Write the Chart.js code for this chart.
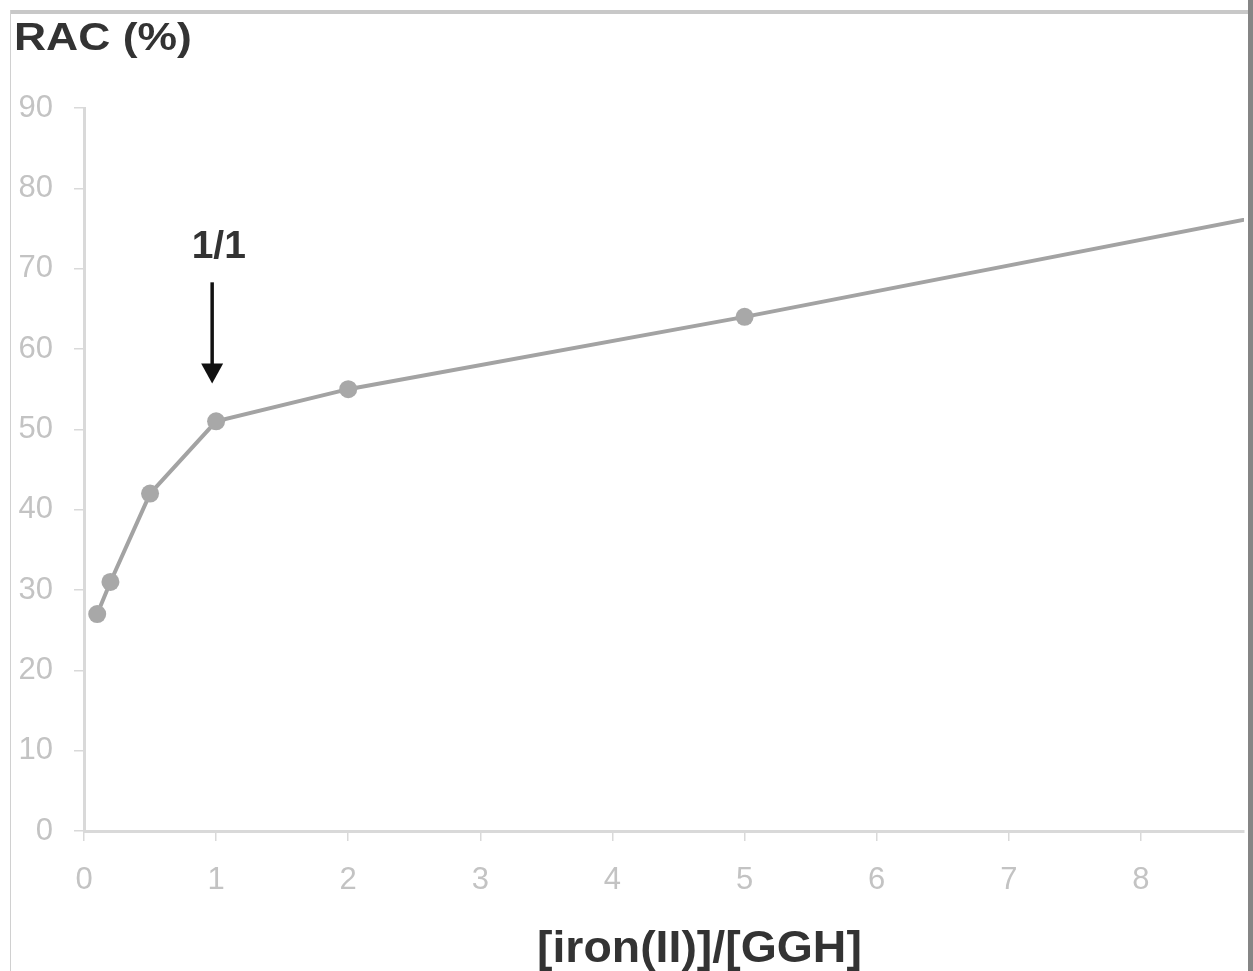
<!DOCTYPE html>
<html>
<head>
<meta charset="utf-8">
<script src="https://cdn.jsdelivr.net/npm/chart.js@4.4.1/dist/chart.umd.min.js"></script>
<style>
  html, body { margin: 0; padding: 0; background: #fff; }
  #wrap { position: relative; width: 1253px; height: 971px; overflow: hidden; }
  #wrap canvas { position: absolute; left: 0; top: 0; }
  .frame-top { position: absolute; left: 10px; top: 10px; width: 1238px; height: 4px; background: #c8c8c8; }
  .frame-left { position: absolute; left: 10px; top: 10px; width: 1px; height: 961px; background: #d0d0d0; }
  .frame-right { position: absolute; left: 1248px; top: 0; width: 5px; height: 971px; background: #858585; }
  .ytitle, .xtitle { position: absolute; font-family: "Liberation Sans", Arial, sans-serif; font-weight: bold;
    color: #333; line-height: 1; white-space: nowrap; transform-origin: left top; }
  .ytitle { left: 14px; top: 18px; font-size: 38px; transform: scaleX(1.17); }
  .xtitle { left: 537px; top: 925px; font-size: 44px; transform: scaleX(1.055); }
</style>
</head>
<body>
<div id="wrap">
  <canvas id="chart" width="1253" height="971"></canvas>
  <div class="frame-top"></div>
  <div class="frame-left"></div>
  <div class="frame-right"></div>
  <div class="ytitle">RAC (%)</div>
  <div class="xtitle">[iron(II)]/[GGH]</div>
</div>
<script>
// rapport fer/GGH et RAC mesuré
const ratios = [0.1, 0.2, 0.5, 1, 2, 5, 10];
const racValues = [27, 31, 42, 51, 55, 64, 80];
const xTicks = [0, 1, 2, 3, 4, 5, 6, 7, 8];
const yTicks = [0, 10, 20, 30, 40, 50, 60, 70, 80, 90];

// flèche "1/1"
const noteText = '1/1';
const noteX = 1.02, noteY = 71.3;
const arrowX = 0.97, arrowFrom = 68.3, arrowTo = 55.7;

const tickFont = { family: '"Liberation Sans", Arial, sans-serif', size: 31 };
const axisGray = '#d9d9d9';

const arrowPlugin = {
  id: 'arrowNote',
  afterDatasetsDraw(chart) {
    const { ctx, scales: { x, y } } = chart;
    const ax = x.getPixelForValue(arrowX);
    const y1 = y.getPixelForValue(arrowFrom);
    const y2 = y.getPixelForValue(arrowTo);
    ctx.save();
    ctx.strokeStyle = '#111';
    ctx.fillStyle = '#111';
    ctx.lineWidth = 3.5;
    ctx.beginPath();
    ctx.moveTo(ax, y1);
    ctx.lineTo(ax, y2 - 15);
    ctx.stroke();
    ctx.beginPath();
    ctx.moveTo(ax - 11, y2 - 20);
    ctx.lineTo(ax + 11, y2 - 20);
    ctx.lineTo(ax, y2);
    ctx.closePath();
    ctx.fill();
    ctx.font = 'bold 39px "Liberation Sans", Arial, sans-serif';
    ctx.fillStyle = '#333';
    ctx.textAlign = 'center';
    ctx.textBaseline = 'alphabetic';
    ctx.fillText(noteText, x.getPixelForValue(noteX), y.getPixelForValue(noteY));
    ctx.restore();
  }
};

new Chart(document.getElementById('chart').getContext('2d'), {
  type: 'line',
  data: {
    datasets: [{
      data: ratios.map((r, i) => ({ x: r, y: racValues[i] })),
      borderColor: '#a3a3a3',
      borderWidth: 4,
      pointRadius: 9,
      pointBackgroundColor: '#a8a8a8',
      pointBorderColor: '#a8a8a8',
      pointBorderWidth: 0,
      tension: 0,
    }]
  },
  options: {
    responsive: false,
    animation: false,
    layout: { padding: { top: 108, right: 5, bottom: 0, left: 0 } },
    plugins: { legend: { display: false }, tooltip: { enabled: false } },
    scales: {
      x: {
        type: 'linear', min: 0, max: 8.78,
        afterFit: s => { s.height = 140; },
        afterBuildTicks: s => { s.ticks = xTicks.map(v => ({ value: v })); },
        ticks: { color: '#c3c3c3', font: tickFont, padding: 21, maxRotation: 0 },
        grid: { drawOnChartArea: false, drawTicks: true, tickLength: 10, color: axisGray, lineWidth: 1.5 },
        border: { color: axisGray, width: 3 }
      },
      y: {
        min: 0, max: 90,
        afterFit: s => { s.width = 84; },
        afterBuildTicks: s => { s.ticks = yTicks.map(v => ({ value: v })); },
        ticks: { color: '#c3c3c3', font: tickFont, padding: 21 },
        grid: { drawOnChartArea: false, drawTicks: true, tickLength: 10, color: axisGray, lineWidth: 1.5 },
        border: { color: axisGray, width: 3 }
      }
    }
  },
  plugins: [arrowPlugin]
});
</script>
</body>
</html>
